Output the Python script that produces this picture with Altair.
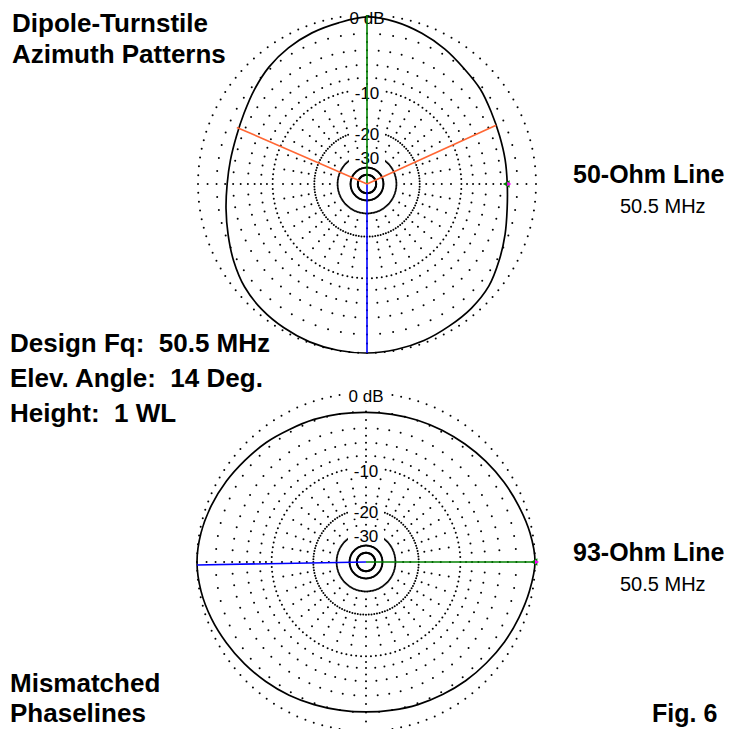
import altair as alt
import pandas as pd

# ---------------- data ----------------
PATTERN_ANGLES = list(range(0, 360, 10))          # azimuth, deg (0 = right, CCW)
TOP_DB = [-3.2, -3.2, -3.1, -2.8, -2.3, -1.95, -1.4, -0.9, -0.45, -0.2,
          -0.55, -0.85, -1.25, -1.75, -2.4, -3.0, -3.35, -3.4, -3.25,
          -2.85, -2.3, -1.6, -0.95, -0.55, -0.3, -0.1, -0.02, 0.0, -0.1,
          -0.25, -0.5, -0.7, -1.05, -1.75, -2.4, -2.95]          # 50-Ohm line
BOTTOM_DB = [0.0, -0.25, -0.65, -1.0, -1.32, -1.6, -1.8, -1.95, -2.05, -2.08,
             -2.0, -1.85, -1.7, -1.4, -1.15, -0.8, -0.45, -0.15, 0.0,
             -0.15, -0.45, -0.8, -1.1, -1.38, -1.62, -1.85, -2.0, -2.05, -2.0,
             -1.85, -1.7, -1.48, -1.25, -0.95, -0.65, -0.3]         # 93-Ohm line

RING_LEVELS = [0, -10, -20, -30, -40, -50]
LABEL_LEVELS = [0, -10, -20, -30]
RING_LABELS = ["0 dB", "-10", "-20", "-30"]

TOP_LINE_ANGLES = [90, 270, 24.5, 156.5]
TOP_LINE_DB = [0, 0, -3.0, -3.0]
TOP_LINE_KIND = ["max", "back", "half", "half"]
BOTTOM_LINE_ANGLES = [0, 181]
BOTTOM_LINE_DB = [0, 0]
BOTTOM_LINE_KIND = ["max", "back"]

TITLE_LINES = ["Dipole-Turnstile", "Azimuth Patterns"]
INFO_LINES = ["Design Fq:\u00a0 50.5 MHz", "Elev. Angle:\u00a0 14 Deg.", "Height:\u00a0 1 WL"]
PANEL_NAMES = ["50-Ohm Line", "93-Ohm Line"]
PANEL_FREQ = ["50.5 MHz", "50.5 MHz"]
FOOT_LINES = ["Mismatched", "Phaselines"]
FIG_LABEL = "Fig. 6"

PANELS = ["top", "bottom"]

# ---------------- grid construction (ARRL log scale) ----------------
grid_rows = []
for p in PANELS:
    for lvl in RING_LEVELS:
        for a in range(0, 360, 3):
            grid_rows.append({"panel": p, "angle": a, "db": lvl})
    for a in range(0, 360, 5):
        levels = [-2, -4, -6, -8]
        if a % 90 == 0:
            levels = [-1, -2, -3, -4, -5, -6, -7, -8, -9]
        for lvl in levels:
            grid_rows.append({"panel": p, "angle": a, "db": lvl})
    for a in range(0, 360, 10):
        for lvl in [-12, -14, -16, -18]:
            grid_rows.append({"panel": p, "angle": a, "db": lvl})
    for a in range(0, 360, 15):
        for lvl in [-23, -26]:
            grid_rows.append({"panel": p, "angle": a, "db": lvl})
grid_df = pd.DataFrame(grid_rows)

pat_df = pd.DataFrame(
    [{"panel": "top", "angle": a, "db": d} for a, d in zip(PATTERN_ANGLES, TOP_DB)]
    + [{"panel": "bottom", "angle": a, "db": d} for a, d in zip(PATTERN_ANGLES, BOTTOM_DB)]
)

line_rows = []
for i, (a, d, k) in enumerate(zip(TOP_LINE_ANGLES, TOP_LINE_DB, TOP_LINE_KIND)):
    for f in (0, 1):
        line_rows.append({"panel": "top", "lid": f"t{i}", "angle": a, "db": d, "kind": k, "frac": f})
for i, (a, d, k) in enumerate(zip(BOTTOM_LINE_ANGLES, BOTTOM_LINE_DB, BOTTOM_LINE_KIND)):
    for f in (0, 1):
        line_rows.append({"panel": "bottom", "lid": f"b{i}", "angle": a, "db": d, "kind": k, "frac": f})
line_df = pd.DataFrame(line_rows)

lab_df = pd.DataFrame(
    [{"panel": p, "angle": 90, "db": l, "label": t}
     for p in PANELS for l, t in zip(LABEL_LEVELS, RING_LABELS)]
)

# ---------------- polar -> page coordinates ----------------
CX = "(datum.panel == 'top' ? 367 : 366)"
CY = "(datum.panel == 'top' ? 184 : 562)"
RAD = "169 * pow(0.89, -datum.db / 2)"


def polar(chart, frac=False):
    r = f"(datum.frac * {RAD})" if frac else RAD
    return chart.transform_calculate(
        px=f"{CX} + {r} * cos(datum.angle * PI / 180)",
        py=f"{CY} - {r} * sin(datum.angle * PI / 180)",
    )


X = alt.X("px:Q", scale=alt.Scale(domain=[8, 728], nice=False, zero=False), axis=None)
Y = alt.Y("py:Q", scale=alt.Scale(domain=[8, 729], nice=False, zero=False, reverse=True), axis=None)

grid = polar(alt.Chart(grid_df)).mark_circle(size=4, color="#000000", opacity=1).encode(x=X, y=Y)

boxes = polar(alt.Chart(lab_df)).transform_calculate(
    bsize="pow(length(datum.label) * 10 + 6, 2)"
).mark_point(
    shape="M-1,-0.34L1,-0.34L1,0.34L-1,0.34Z", filled=True, fill="white",
    strokeWidth=0, opacity=1, yOffset=3
).encode(x=X, y=Y, size=alt.Size("bsize:Q", scale=None))

labels = polar(alt.Chart(lab_df)).mark_text(
    font="Liberation Sans", fontSize=17, color="#000000", baseline="middle", align="center", dy=4
).encode(x=X, y=Y, text="label:N")

pattern = polar(alt.Chart(pat_df)).mark_line(
    color="#000000", strokeWidth=1.7, interpolate="cardinal-closed"
).encode(x=X, y=Y, detail="panel:N", order="angle:Q")

lines = polar(alt.Chart(line_df), frac=True).mark_line(strokeWidth=1.6).encode(
    x=X, y=Y, detail="lid:N", order="frac:Q",
    color=alt.Color("kind:N", scale=alt.Scale(domain=["max", "back", "half"],
                                              range=["#008000", "#0000FF", "#FF6633"]), legend=None),
)

marker_src = polar(alt.Chart(pat_df)).transform_filter("datum.angle == 0")
marker_g = marker_src.mark_point(shape="triangle-left", filled=True, color="#008000",
                                 size=60, opacity=1, xOffset=-1).encode(x=X, y=Y)
marker_m = marker_src.mark_point(shape="triangle-right", filled=True, color="#FF00FF",
                                 size=22, opacity=1, xOffset=2).encode(x=X, y=Y)


def txt(s, x, y, size, bold=True, align="left"):
    return alt.Chart(pd.DataFrame({"t": [s]})).mark_text(
        font="Liberation Sans", fontSize=size, fontWeight="bold" if bold else "normal",
        align=align, baseline="alphabetic", color="#000000"
    ).encode(text="t:N", x=alt.value(x - 8), y=alt.value(y - 8))


texts = [
    txt(TITLE_LINES[0], 12, 32, 26),
    txt(TITLE_LINES[1], 12, 63, 26),
    txt(INFO_LINES[0], 10, 352, 26),
    txt(INFO_LINES[1], 10, 387, 26),
    txt(INFO_LINES[2], 10, 422, 26),
    txt(PANEL_NAMES[0], 573, 183, 25),
    txt(PANEL_FREQ[0], 620, 213, 20, bold=False),
    txt(PANEL_NAMES[1], 573, 561, 25),
    txt(PANEL_FREQ[1], 620, 591, 20, bold=False),
    txt(FOOT_LINES[0], 10, 692, 26),
    txt(FOOT_LINES[1], 10, 722, 26),
    txt(FIG_LABEL, 652, 722, 25),
]

chart = alt.layer(grid, boxes, labels, pattern, lines, marker_g, marker_m, *texts).properties(
    width=720, height=721, padding=0, autosize="none", background="white"
).configure_view(stroke=None)

chart.save("out.html", embed_options={"renderer": "svg", "actions": False})
